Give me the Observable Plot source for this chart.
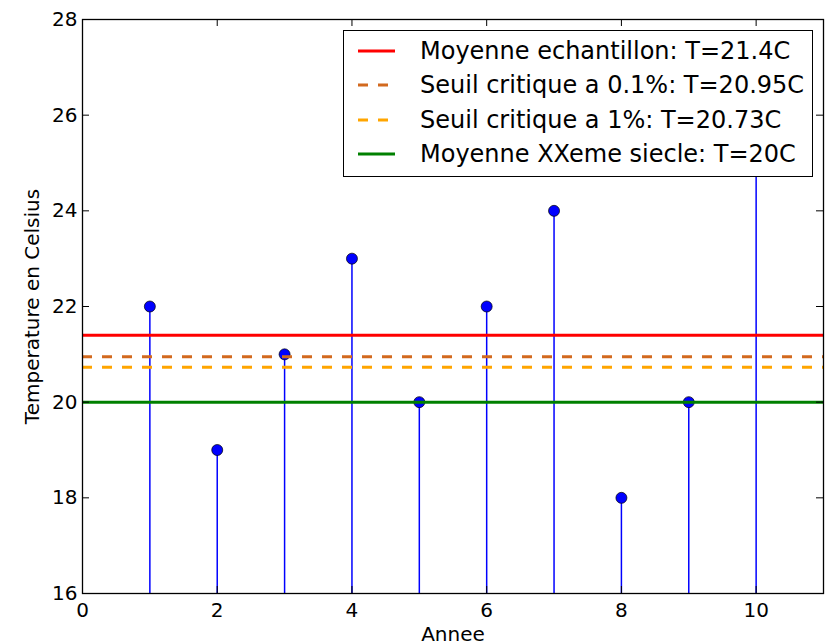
<!DOCTYPE html>
<html><head><meta charset="utf-8">
<script src="https://cdn.jsdelivr.net/npm/d3@7"></script>
<script src="https://cdn.jsdelivr.net/npm/@observablehq/plot@0.6"></script>
<style>
body{margin:0;background:#fff;}
#wrap{position:relative;width:827px;height:642px;overflow:hidden;font-family:"DejaVu Sans",sans-serif;}
#wrap svg{display:block;}
#legend{position:absolute;left:343px;top:30px;width:468px;height:145px;background:#fff;border:1.3px solid #000;}
.row{position:absolute;left:0;height:34px;line-height:34px;font-size:24px;color:#000;white-space:nowrap;}
.row svg{position:absolute;left:14px;top:0;}
.row span{position:absolute;left:76px;top:0;}
</style></head><body><div id="wrap"></div>
<script>
const years = [1,2,3,4,5,6,7,8,9,10];
const temps = [22,19,21,23,20,22,24,18,20,25];
const xTicks = [0,2,4,6,8,10];
const yTicks = [16,18,20,22,24,26,28];
const refLabels = ["Moyenne echantillon: T=21.4C","Seuil critique a 0.1%: T=20.95C","Seuil critique a 1%: T=20.73C","Moyenne XXeme siecle: T=20C"];
const refValues = [21.4, 20.95, 20.73, 20];
const refColors = ["#ff0000","#d2691e","#ffa500","#008000"];
const refDashes = [null,"10,10","10,10",null];
const xLabel = "Annee";
const yLabel = "Temperature en Celsius";

const data = years.map((y,i)=>({year:y, temp:temps[i]}));
const refs = refValues.map((v,i)=>({value:v, color:refColors[i], dash:refDashes[i], label:refLabels[i]}));

const W = 827, H = 642, mL = 82, mR = 4, mT = 19, mB = 49;
const plotW = W - mL - mR, plotH = H - mT - mB, tickLen = 7;

const font = {fontSize:20, fontFamily:"DejaVu Sans", fill:"#000"};
const chart = Plot.plot({
  width:W, height:H,
  marginLeft:mL, marginRight:mR, marginTop:mT, marginBottom:mB,
  style:{fontFamily:"DejaVu Sans", background:"#fff", overflow:"visible"},
  x:{domain:[0,11]},
  y:{domain:[16,28]},
  marks:[
    Plot.ruleX(data,{x:"year", y1:16, y2:"temp", stroke:"#0000ff", strokeWidth:1.5}),
    Plot.dot(data,{x:"year", y:"temp", r:5.5, fill:"#0000ff", stroke:"#000", strokeWidth:0.7}),
    ...refs.map(r=>Plot.ruleY([r.value],{stroke:r.color, strokeWidth:3, strokeDasharray:r.dash})),
    Plot.axisX({ticks:xTicks, anchor:"bottom", tickSize:0, tickPadding:9, label:null, ...font}),
    Plot.axisY({ticks:yTicks, anchor:"left", tickSize:0, tickPadding:5, label:null, ...font}),
    Plot.ruleX(xTicks,{x:d=>d, insetTop:plotH-tickLen, stroke:"#000", strokeWidth:1}),
    Plot.ruleX(xTicks,{x:d=>d, insetBottom:plotH-tickLen, stroke:"#000", strokeWidth:1}),
    Plot.ruleY(yTicks,{y:d=>d, insetRight:plotW-tickLen, stroke:"#000", strokeWidth:1}),
    Plot.ruleY(yTicks,{y:d=>d, insetLeft:plotW-tickLen, stroke:"#000", strokeWidth:1}),
    Plot.text([xLabel],{frameAnchor:"bottom", text:d=>d, dy:41, lineAnchor:"middle", textAnchor:"middle", ...font}),
    Plot.text([yLabel],{frameAnchor:"left", text:d=>d, dx:-50, rotate:-90, lineAnchor:"middle", textAnchor:"middle", ...font}),
    Plot.frame({stroke:"#000", strokeWidth:1.3})
  ]
});
const wrap = document.getElementById("wrap");
wrap.appendChild(chart);

const legend = document.createElement("div");
legend.id = "legend";
const centers = [20, 54, 88.5, 123];
refs.forEach((r,i)=>{
  const row = document.createElement("div");
  row.className = "row";
  row.style.top = (centers[i]-17)+"px";
  row.style.width = "468px";
  const ns = "http://www.w3.org/2000/svg";
  const s = document.createElementNS(ns,"svg");
  s.setAttribute("width","40"); s.setAttribute("height","34");
  const ln = document.createElementNS(ns,"line");
  ln.setAttribute("x1","0"); ln.setAttribute("x2","37");
  ln.setAttribute("y1","17"); ln.setAttribute("y2","17");
  ln.setAttribute("stroke", r.color); ln.setAttribute("stroke-width","3");
  if (r.dash) ln.setAttribute("stroke-dasharray", r.dash);
  s.appendChild(ln);
  const sp = document.createElement("span");
  sp.textContent = r.label;
  row.appendChild(s); row.appendChild(sp);
  legend.appendChild(row);
});
wrap.appendChild(legend);
</script>
</body></html>
